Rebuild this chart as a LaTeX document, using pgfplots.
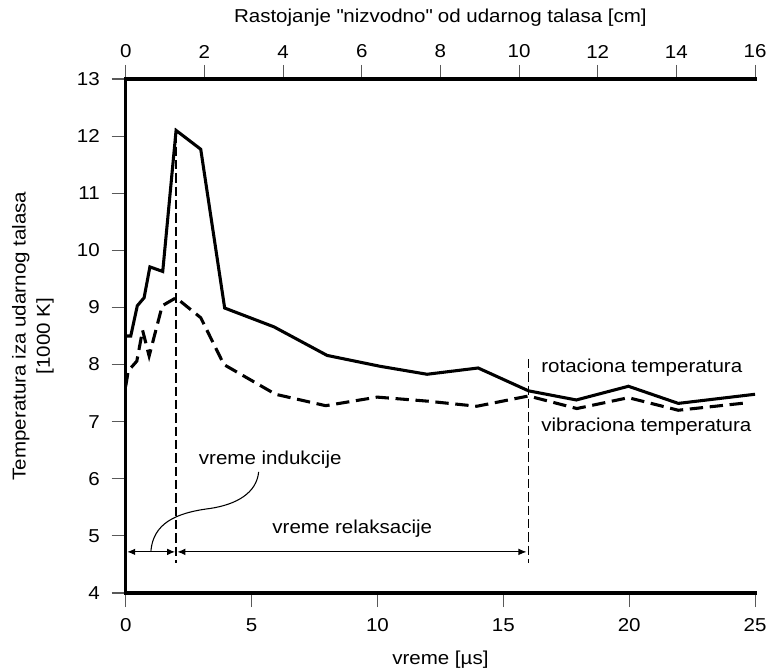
\documentclass[border=0pt]{standalone}
\usepackage{fontspec}
\setmainfont{Liberation Sans}[FakeStretch=1.1]
\usepackage{pgfplots}
\pgfplotsset{compat=1.18}
\usetikzlibrary{arrows.meta}
\pgfplotsset{/pgf/number format/assume math mode=true}
\begin{document}
\fontsize{14}{16}\selectfont
\begin{tikzpicture}
\useasboundingbox (-94.3pt,-57pt) rectangle (487.7pt,444.75pt);
\begin{axis}[
  at={(0,0)}, anchor=south west,
  scale only axis, width=472pt, height=385.5pt,
  xmin=0, xmax=25, ymin=4, ymax=13,
  axis x line=bottom, axis y line=left,
  axis line style={-, line width=2.6pt, line cap=rect},
  x axis line style={-}, y axis line style={-},
  xtick={0,5,...,25}, ytick={4,5,...,13},
  tick align=outside, major tick length=10.5pt,
  tick style={black!65, line width=0.8pt},
  xticklabel style={anchor=north, inner sep=0pt, yshift=-8.5pt},
  yticklabel style={anchor=east, inner sep=0pt, xshift=-8.8pt},
  xlabel={vreme [µs]},
  xlabel style={at={(axis description cs:0.5,-0.1305)}, anchor=center, inner sep=0pt},
  ylabel={Temperatura iza udarnog talasa\\{}[1000 K]},
  ylabel style={at={(axis description cs:-0.1473,0.5)}, anchor=center, align=center, inner sep=0pt, font=\fontsize{14}{18.2}\selectfont},
  clip=false,
]
\addplot[line width=2.3pt, black] coordinates {
(0,8.5) (0.2,8.5) (0.46,9.03) (0.73,9.17) (0.96,9.71) (1.47,9.63) (2.0,12.1) (2.98,11.77) (3.93,8.99) (5.89,8.66) (8.0,8.16) (10.1,7.97) (11.97,7.83) (14.0,7.94) (16.0,7.54) (17.9,7.38) (19.97,7.62) (21.95,7.32) (25,7.48)
};
\addplot[line width=2.3pt, black, dash pattern=on 10pt off 5pt] coordinates {
(0,7.62) (0.1,7.89) (0.44,8.06) (0.67,8.6) (0.93,8.15) (1.45,9.03) (2.0,9.17) (2.98,8.82) (3.9,8.0) (5.95,7.48) (7.94,7.28) (9.99,7.43) (11.97,7.36) (13.95,7.27) (16.0,7.45) (17.92,7.23) (19.97,7.42) (21.95,7.2) (24.67,7.33)
};
\draw[line width=0.9pt, dash pattern=on 7pt off 3pt] (axis cs:2,12.05) -- (axis cs:2,4.53);
\draw[line width=0.9pt, dash pattern=on 7pt off 3pt] (axis cs:16,8.1) -- (axis cs:16,4.53);
\draw[line width=0.8pt, {Latex[length=6pt,width=5pt]}-{Latex[length=6pt,width=5pt]}] (axis cs:0.06,4.72) -- (axis cs:1.96,4.72);
\draw[line width=0.8pt, {Latex[length=6pt,width=5pt]}-{Latex[length=6pt,width=5pt]}] (axis cs:2.05,4.72) -- (axis cs:15.92,4.72);
\draw[line width=0.8pt] (axis cs:1.0,4.74) .. controls (axis cs:1.1,5.2) and (axis cs:1.9,5.4) .. (axis cs:3.35,5.48) .. controls (axis cs:4.4,5.55) and (axis cs:5.2,5.75) .. (axis cs:5.28,6.12);
\node[anchor=center, inner sep=0pt] at (axis cs:5.74,6.33) {vreme indukcije};
\node[anchor=center, inner sep=0pt] at (axis cs:9.0,5.12) {vreme relaksacije};
\node[anchor=west, inner sep=0pt] at (axis cs:16.5,7.94) {rotaciona temperatura};
\node[anchor=west, inner sep=0pt] at (axis cs:16.5,6.91) {vibraciona temperatura};
\end{axis}
\begin{axis}[
  at={(0,0)}, anchor=south west,
  scale only axis, width=472pt, height=385.5pt,
  xmin=0, xmax=16, ymin=0, ymax=1,
  axis x line=top, hide y axis,
  axis line style={-, line width=2.6pt, line cap=rect},
  x axis line style={-},
  xtick={0,2,...,16},
  tick align=outside, major tick length=10.5pt,
  tick style={black!65, line width=0.8pt},
  xticklabel style={anchor=south, inner sep=0pt, yshift=5pt},
  xlabel={Rastojanje \textquotedbl nizvodno\textquotedbl{} od udarnog talasa [cm]},
  xlabel style={at={(axis description cs:0.5,1.119)}, anchor=center, inner sep=0pt},
]
\end{axis}
\end{tikzpicture}
\end{document}
